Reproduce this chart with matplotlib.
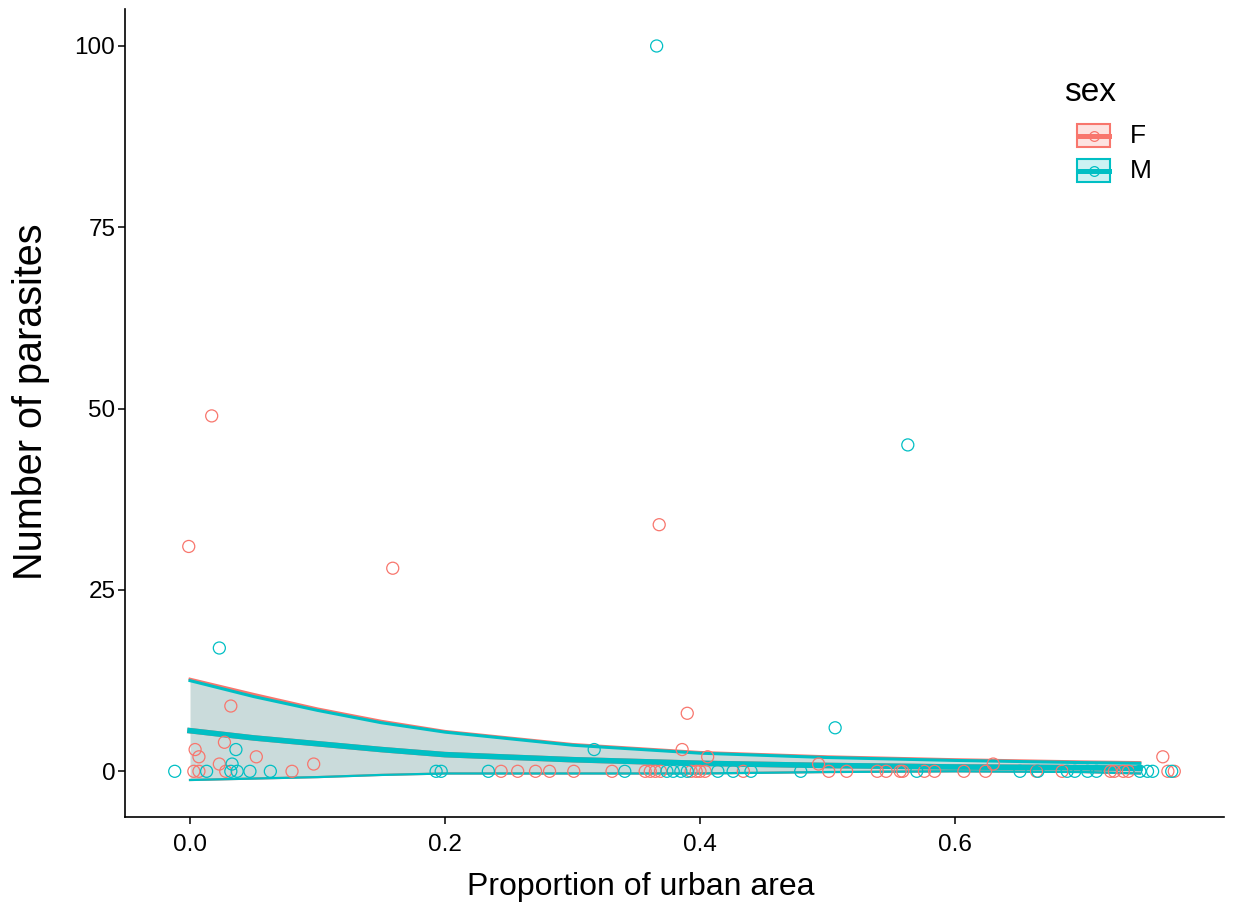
import matplotlib
matplotlib.use("Agg")
import matplotlib.pyplot as plt
from matplotlib.patches import Rectangle
from matplotlib.lines import Line2D

plt.rcParams['font.family'] = ['Liberation Sans', 'DejaVu Sans']

# --- data ---
f_x = [-0.001, 0.017, 0.159, 0.368, 0.032, 0.027, 0.004, 0.007, 0.023, 0.052, 0.097,
       0.003, 0.007, 0.028, 0.080, 0.390, 0.386, 0.406,
       0.244, 0.257, 0.271, 0.282, 0.301, 0.331, 0.357, 0.361, 0.365, 0.369,
       0.393, 0.397, 0.400, 0.404, 0.434,
       0.493, 0.501, 0.515, 0.539, 0.546, 0.557, 0.559, 0.576, 0.584, 0.607, 0.624,
       0.630, 0.664, 0.684, 0.722, 0.725, 0.732, 0.736, 0.763, 0.767, 0.772]
f_y = [31, 49, 28, 34, 9, 4, 3, 2, 1, 2, 1,
       0, 0, 0, 0, 8, 3, 2,
       0, 0, 0, 0, 0, 0, 0, 0, 0, 0,
       0, 0, 0, 0, 0,
       1, 0, 0, 0, 0, 0, 0, 0, 0, 0, 0,
       1, 0, 0, 0, 0, 0, 0, 2, 0, 0]

m_x = [0.366, 0.563, 0.023, 0.506, 0.036, 0.033, 0.317,
       -0.012, 0.013, 0.032, 0.037, 0.047, 0.063, 0.193, 0.197, 0.234, 0.341,
       0.374, 0.379, 0.385, 0.390, 0.414, 0.426, 0.440, 0.479, 0.570, 0.651,
       0.665, 0.688, 0.694, 0.704, 0.711, 0.745, 0.751, 0.755, 0.770]
m_y = [100, 45, 17, 6, 3, 1, 3,
       0, 0, 0, 0, 0, 0, 0, 0, 0, 0,
       0, 0, 0, 0, 0, 0, 0, 0, 0, 0,
       0, 0, 0, 0, 0, 0, 0, 0, 0]

# fitted curves with confidence band (read at these x positions)
smooth_x = [0.00, 0.05, 0.10, 0.15, 0.20, 0.30, 0.40, 0.50, 0.60, 0.70, 0.745]
f_upper = [12.7, 10.6, 8.6, 6.9, 5.5, 3.7, 2.6, 2.0, 1.6, 1.3, 1.2]
f_mean = [5.6, 4.6, 3.8, 3.0, 2.3, 1.6, 1.1, 0.8, 0.6, 0.5, 0.4]
f_lower = [-1.2, -1.0, -0.8, -0.5, -0.3, -0.3, -0.3, -0.1, 0.0, -0.1, -0.3]
m_upper = [12.5, 10.3, 8.4, 6.7, 5.4, 3.6, 2.5, 1.9, 1.5, 1.2, 1.1]
m_mean = [5.6, 4.6, 3.8, 3.0, 2.3, 1.6, 1.1, 0.8, 0.6, 0.5, 0.4]
m_lower = [-1.2, -1.0, -0.8, -0.5, -0.3, -0.3, -0.3, -0.1, 0.0, -0.1, -0.3]

x_ticks = [0.0, 0.2, 0.4, 0.6]
x_ticklabels = ["0.0", "0.2", "0.4", "0.6"]
y_ticks = [0, 25, 50, 75, 100]

F_COL = "#F8766D"
M_COL = "#00BFC4"

W, H = 1233, 911
fig = plt.figure(figsize=(W / 100, H / 100), dpi=100)
ax = fig.add_axes([125 / W, 1 - 817 / H, 1099 / W, (817 - 9) / H])

groups = [
    (F_COL, f_x, f_y, f_upper, f_mean, f_lower),
    (M_COL, m_x, m_y, m_upper, m_mean, m_lower),
]
for col, px, py, up, mu, lo in groups:
    ax.fill_between(smooth_x, lo, up, color=col, alpha=0.2, linewidth=0, zorder=2)
    ax.plot(smooth_x, up, color=col, lw=2.2, zorder=3)
    ax.plot(smooth_x, lo, color=col, lw=1.6, zorder=3)
    ax.plot(smooth_x, mu, color=col, lw=4.0, zorder=3)

for col, px, py, up, mu, lo in groups:
    ax.scatter(px, py, s=75, facecolors="none", edgecolors=col, linewidths=0.9, zorder=4)

ax.set_xlim(-0.051, 0.811)
ax.set_ylim(-6.3, 105.1)
ax.set_xticks(x_ticks)
ax.set_xticklabels(x_ticklabels)
ax.set_yticks(y_ticks)

for s in ["top", "right"]:
    ax.spines[s].set_visible(False)
for s in ["left", "bottom"]:
    ax.spines[s].set_linewidth(1.2)
ax.tick_params(axis="both", length=5, width=1.1, labelsize=17.5, colors="black")
ax.tick_params(axis="x", pad=7)
ax.tick_params(axis="y", pad=2)

ax.set_xlabel("Proportion of urban area", fontsize=23)
ax.xaxis.set_label_coords(0.469, -0.068)
ax.set_ylabel("Number of parasites", fontsize=28.5)
ax.yaxis.set_label_coords(-0.068, 0.514)

# legend drawn by hand
def fx(px):
    return px / W

def fy(py):
    return 1 - py / H

fig.text(fx(1064), fy(101), "sex", fontsize=24, ha="left", va="baseline")
for col, label, top in [(F_COL, "F", 124), (M_COL, "M", 159)]:
    fig.patches.append(Rectangle((fx(1077), fy(top + 23)), 33 / W, 23 / H,
                                 transform=fig.transFigure, facecolor=col, alpha=0.2,
                                 edgecolor="none"))
    fig.patches.append(Rectangle((fx(1077), fy(top + 23)), 33 / W, 23 / H,
                                 transform=fig.transFigure, facecolor="none",
                                 edgecolor=col, linewidth=1.5))
    fig.lines.append(Line2D([fx(1078), fx(1109)], [fy(top + 11.5)] * 2,
                            transform=fig.transFigure, color=col, lw=3.6))
    fig.lines.append(Line2D([fx(1093.5)], [fy(top + 11.5)], transform=fig.transFigure,
                            marker="o", markersize=7, markerfacecolor="none",
                            markeredgecolor=col, markeredgewidth=0.9))
    fig.text(fx(1130), fy(top + 12), label, fontsize=19, ha="left", va="center")

fig.savefig("out.png", dpi=100)
